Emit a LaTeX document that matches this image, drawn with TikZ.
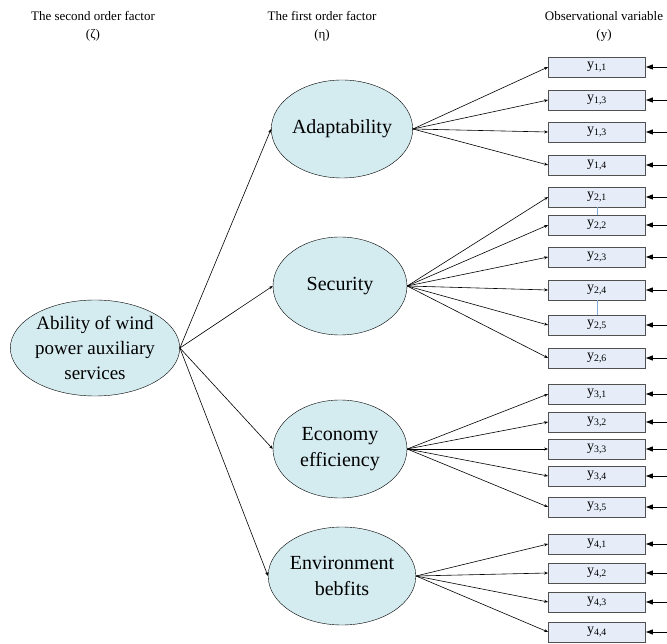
\documentclass[tikz,border=0pt]{standalone}
\usepackage{fontspec}
\setmainfont{Liberation Serif}
\usetikzlibrary{shapes.geometric, arrows.meta}
\definecolor{factorfill}{RGB}{212,235,240}
\definecolor{obsfill}{RGB}{230,236,248}
\definecolor{obsline}{RGB}{80,80,80}
\definecolor{covline}{RGB}{130,170,220}

\begin{document}
\begin{tikzpicture}[x=1pt, y=-1pt,
  factor/.style={ellipse, draw=black, fill=factorfill, inner sep=0pt,
    minimum width=134pt, minimum height=98pt, align=center,
    font=\fontsize{20}{26}\selectfont},
  obs/.style={rectangle, draw=obsline, fill=obsfill, line width=0.8pt,
    minimum width=97pt, minimum height=20pt, inner sep=0pt,
    font=\fontsize{14}{14}\selectfont},
  link/.style={-{Stealth[length=4pt,width=3pt]}, line width=0.6pt},
  err/.style={-{Triangle[length=7pt,width=5pt]}, line width=0.9pt},
  cov/.style={draw=covline, line width=0.6pt},
  head/.style={align=center, font=\fontsize{13}{18}\selectfont}]
  \useasboundingbox (0,0) rectangle (667,644);
  %
  \node[head] (hsec) at (93,26) {The second order factor\\(ζ)};
  \node[head] (hfir) at (322,26) {The first order factor\\(η)};
  \node[head] (hobs) at (604,26) {Observational variable\\(y)};
  %
  \node[factor, minimum width=166pt, minimum height=96pt,
    font=\fontsize{19}{25}\selectfont] (abil) at (95,348)
    {Ability of wind\\power auxiliary\\services};
  \node[factor] (adap) at (342,129) {Adaptability};
  \node[factor] (secu) at (340,286) {Security};
  \node[factor] (econ) at (340,449) {Economy\\efficiency};
  \node[factor] (envi) at (342,576) {Environment\\bebfits};
  %
  \draw[link] (abil.east) -- (adap.west);
  \draw[link] (abil.east) -- (secu.west);
  \draw[link] (abil.east) -- (econ.west);
  \draw[link] (abil.east) -- (envi.west);
  %
  \node[obs] (y11) at (597,67)  {y\textsubscript{1,1}};
  \node[obs] (y12) at (597,100) {y\textsubscript{1,3}};
  \node[obs] (y13) at (597,132) {y\textsubscript{1,3}};
  \node[obs] (y14) at (597,165) {y\textsubscript{1,4}};
  %
  \node[obs] (y21) at (597,197) {y\textsubscript{2,1}};
  \node[obs] (y22) at (597,225) {y\textsubscript{2,2}};
  \node[obs] (y23) at (597,257) {y\textsubscript{2,3}};
  \node[obs] (y24) at (597,290) {y\textsubscript{2,4}};
  \node[obs] (y25) at (597,325) {y\textsubscript{2,5}};
  \node[obs] (y26) at (597,358) {y\textsubscript{2,6}};
  %
  \node[obs] (y31) at (597,394) {y\textsubscript{3,1}};
  \node[obs] (y32) at (597,422) {y\textsubscript{3,2}};
  \node[obs] (y33) at (597,449) {y\textsubscript{3,3}};
  \node[obs] (y34) at (597,476) {y\textsubscript{3,4}};
  \node[obs] (y35) at (597,507) {y\textsubscript{3,5}};
  %
  \node[obs] (y41) at (597,544) {y\textsubscript{4,1}};
  \node[obs] (y42) at (597,573) {y\textsubscript{4,2}};
  \node[obs] (y43) at (597,602) {y\textsubscript{4,3}};
  \node[obs] (y44) at (597,632) {y\textsubscript{4,4}};
  %
  \foreach \b in {y11,y12,y13,y14} \draw[link] (adap.east) -- (\b.west);
  \foreach \b in {y21,y22,y23,y24,y25,y26} \draw[link] (secu.east) -- (\b.west);
  \foreach \b in {y31,y32,y33,y34,y35} \draw[link] (econ.east) -- (\b.west);
  \foreach \b in {y41,y42,y43,y44} \draw[link] (envi.east) -- (\b.west);
  %
  \draw[cov] (y21.south) -- (y22.north);
  \draw[cov] (y24.south) -- (y25.north);
  %
  \foreach \b in {y11,y12,y13,y14,y21,y22,y23,y24,y25,y26,
                  y31,y32,y33,y34,y35,y41,y42,y43,y44} {
    \coordinate (e\b) at ([xshift=24pt]\b.east);
    \draw[err] (e\b) -- (\b.east);
  }
\end{tikzpicture}
\end{document}
